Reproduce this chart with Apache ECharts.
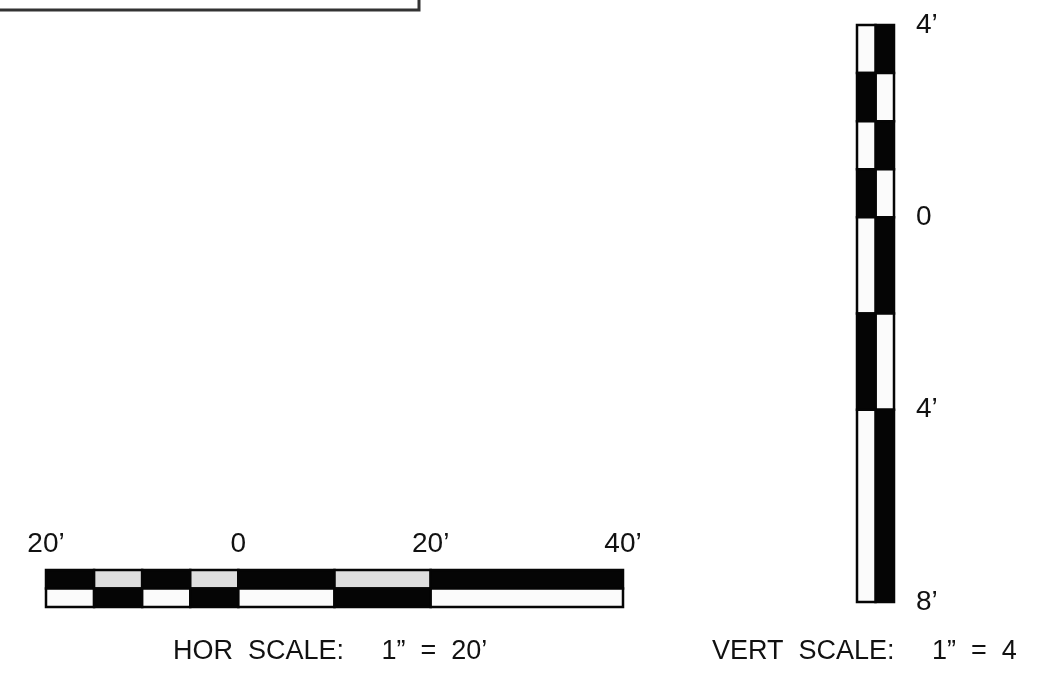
<!DOCTYPE html>
<html>
<head>
<meta charset="utf-8">
<script src="https://cdn.jsdelivr.net/npm/echarts@6/dist/echarts.min.js"></script>
<style>
  html, body { margin: 0; padding: 0; background: #fff; }
  #main { width: 1037px; height: 673px; }
</style>
</head>
<body>
<div id="main"></div>
<script>
// horizontal scale: cell edges in feet, top row dark flags (bottom row is the inverse)
const horEdges = [-20, -15, -10, -5, 0, 10, 20, 40]
const horTopDark = [1, 0, 1, 0, 1, 0, 1]
const horTicks = [-20, 0, 20, 40]
const horLabels = ['20’', '0', '20’', '40’']

// vertical scale: cell edges in feet, right column dark flags (left column is the inverse)
const vertEdges = [4, 3, 2, 1, 0, -2, -4, -8]
const vertRightDark = [1, 0, 1, 0, 1, 0, 1]
const vertTicks = [4, 0, -4, -8]
const vertLabels = ['4’', '0', '4’', '8’']

const horTitle = 'HOR  SCALE:     1”  =  20’'
const vertTitle = 'VERT  SCALE:     1”  =  4'

// [start, end, row, dark]
const horCells = []
for (let i = 0; i < horEdges.length - 1; i++) {
  horCells.push([horEdges[i], horEdges[i + 1], 1, horTopDark[i]])
  horCells.push([horEdges[i], horEdges[i + 1], 0, 1 - horTopDark[i]])
}
// [col, top, bottom, dark]
const vertCells = []
for (let i = 0; i < vertEdges.length - 1; i++) {
  vertCells.push([1, vertEdges[i], vertEdges[i + 1], vertRightDark[i]])
  vertCells.push([0, vertEdges[i], vertEdges[i + 1], 1 - vertRightDark[i]])
}

const labelFont = { fontSize: 28, color: '#111', fontFamily: 'Liberation Sans' }

const chart = echarts.init(document.getElementById('main'))
chart.setOption({
  backgroundColor: '#fff',
  animation: false,
  title: [
    { text: horTitle, left: 168, top: 633, textStyle: { fontSize: 27, fontWeight: 'normal', color: '#111', fontFamily: 'Liberation Sans' } },
    { text: vertTitle, left: 707, top: 633, textStyle: { fontSize: 27, fontWeight: 'normal', color: '#111', fontFamily: 'Liberation Sans' } }
  ],
  graphic: [
    {
      type: 'polyline',
      shape: { points: [[0, 10], [419, 10], [419, 0]] },
      style: { stroke: '#333', lineWidth: 3, fill: null }
    }
  ],
  grid: [
    { left: 46, top: 570, width: 577, height: 37 },
    { left: 857, top: 25, width: 37, height: 577 }
  ],
  xAxis: [
    {
      gridIndex: 0,
      type: 'value',
      min: -20,
      max: 40,
      interval: 20,
      position: 'top',
      axisLine: { show: false },
      axisTick: { show: false },
      splitLine: { show: false },
      axisLabel: Object.assign({
        margin: 12,
        formatter: function(v) {
          const i = horTicks.indexOf(v)
          return i >= 0 ? horLabels[i] : ''
        }
      }, labelFont)
    },
    { gridIndex: 1, type: 'value', min: 0, max: 2, show: false }
  ],
  yAxis: [
    { gridIndex: 0, type: 'value', min: 0, max: 2, show: false },
    {
      gridIndex: 1,
      type: 'value',
      min: -8,
      max: 4,
      interval: 4,
      position: 'right',
      axisLine: { show: false },
      axisTick: { show: false },
      splitLine: { show: false },
      axisLabel: Object.assign({
        margin: 22,
        align: 'left',
        formatter: function(v) {
          const i = vertTicks.indexOf(v)
          return i >= 0 ? vertLabels[i] : ''
        }
      }, labelFont)
    }
  ],
  series: [
    {
      type: 'custom',
      xAxisIndex: 0,
      yAxisIndex: 0,
      data: horCells,
      renderItem: function(params, api) {
        const p1 = api.coord([api.value(0), api.value(2) + 1])
        const p2 = api.coord([api.value(1), api.value(2)])
        const dark = api.value(3) === 1
        const light = api.value(2) === 1 ? '#dedede' : '#fbfbfb'
        return {
          type: 'rect',
          shape: { x: p1[0], y: p1[1], width: p2[0] - p1[0], height: p2[1] - p1[1] },
          style: { fill: dark ? '#050505' : light, stroke: '#050505', lineWidth: 2.5 }
        }
      }
    },
    {
      type: 'custom',
      xAxisIndex: 1,
      yAxisIndex: 1,
      data: vertCells,
      renderItem: function(params, api) {
        const p1 = api.coord([api.value(0), api.value(1)])
        const p2 = api.coord([api.value(0) + 1, api.value(2)])
        const dark = api.value(3) === 1
        return {
          type: 'rect',
          shape: { x: p1[0], y: p1[1], width: p2[0] - p1[0], height: p2[1] - p1[1] },
          style: { fill: dark ? '#050505' : '#fbfbfb', stroke: '#050505', lineWidth: 2.5 }
        }
      }
    }
  ]
})
</script>
</body>
</html>
